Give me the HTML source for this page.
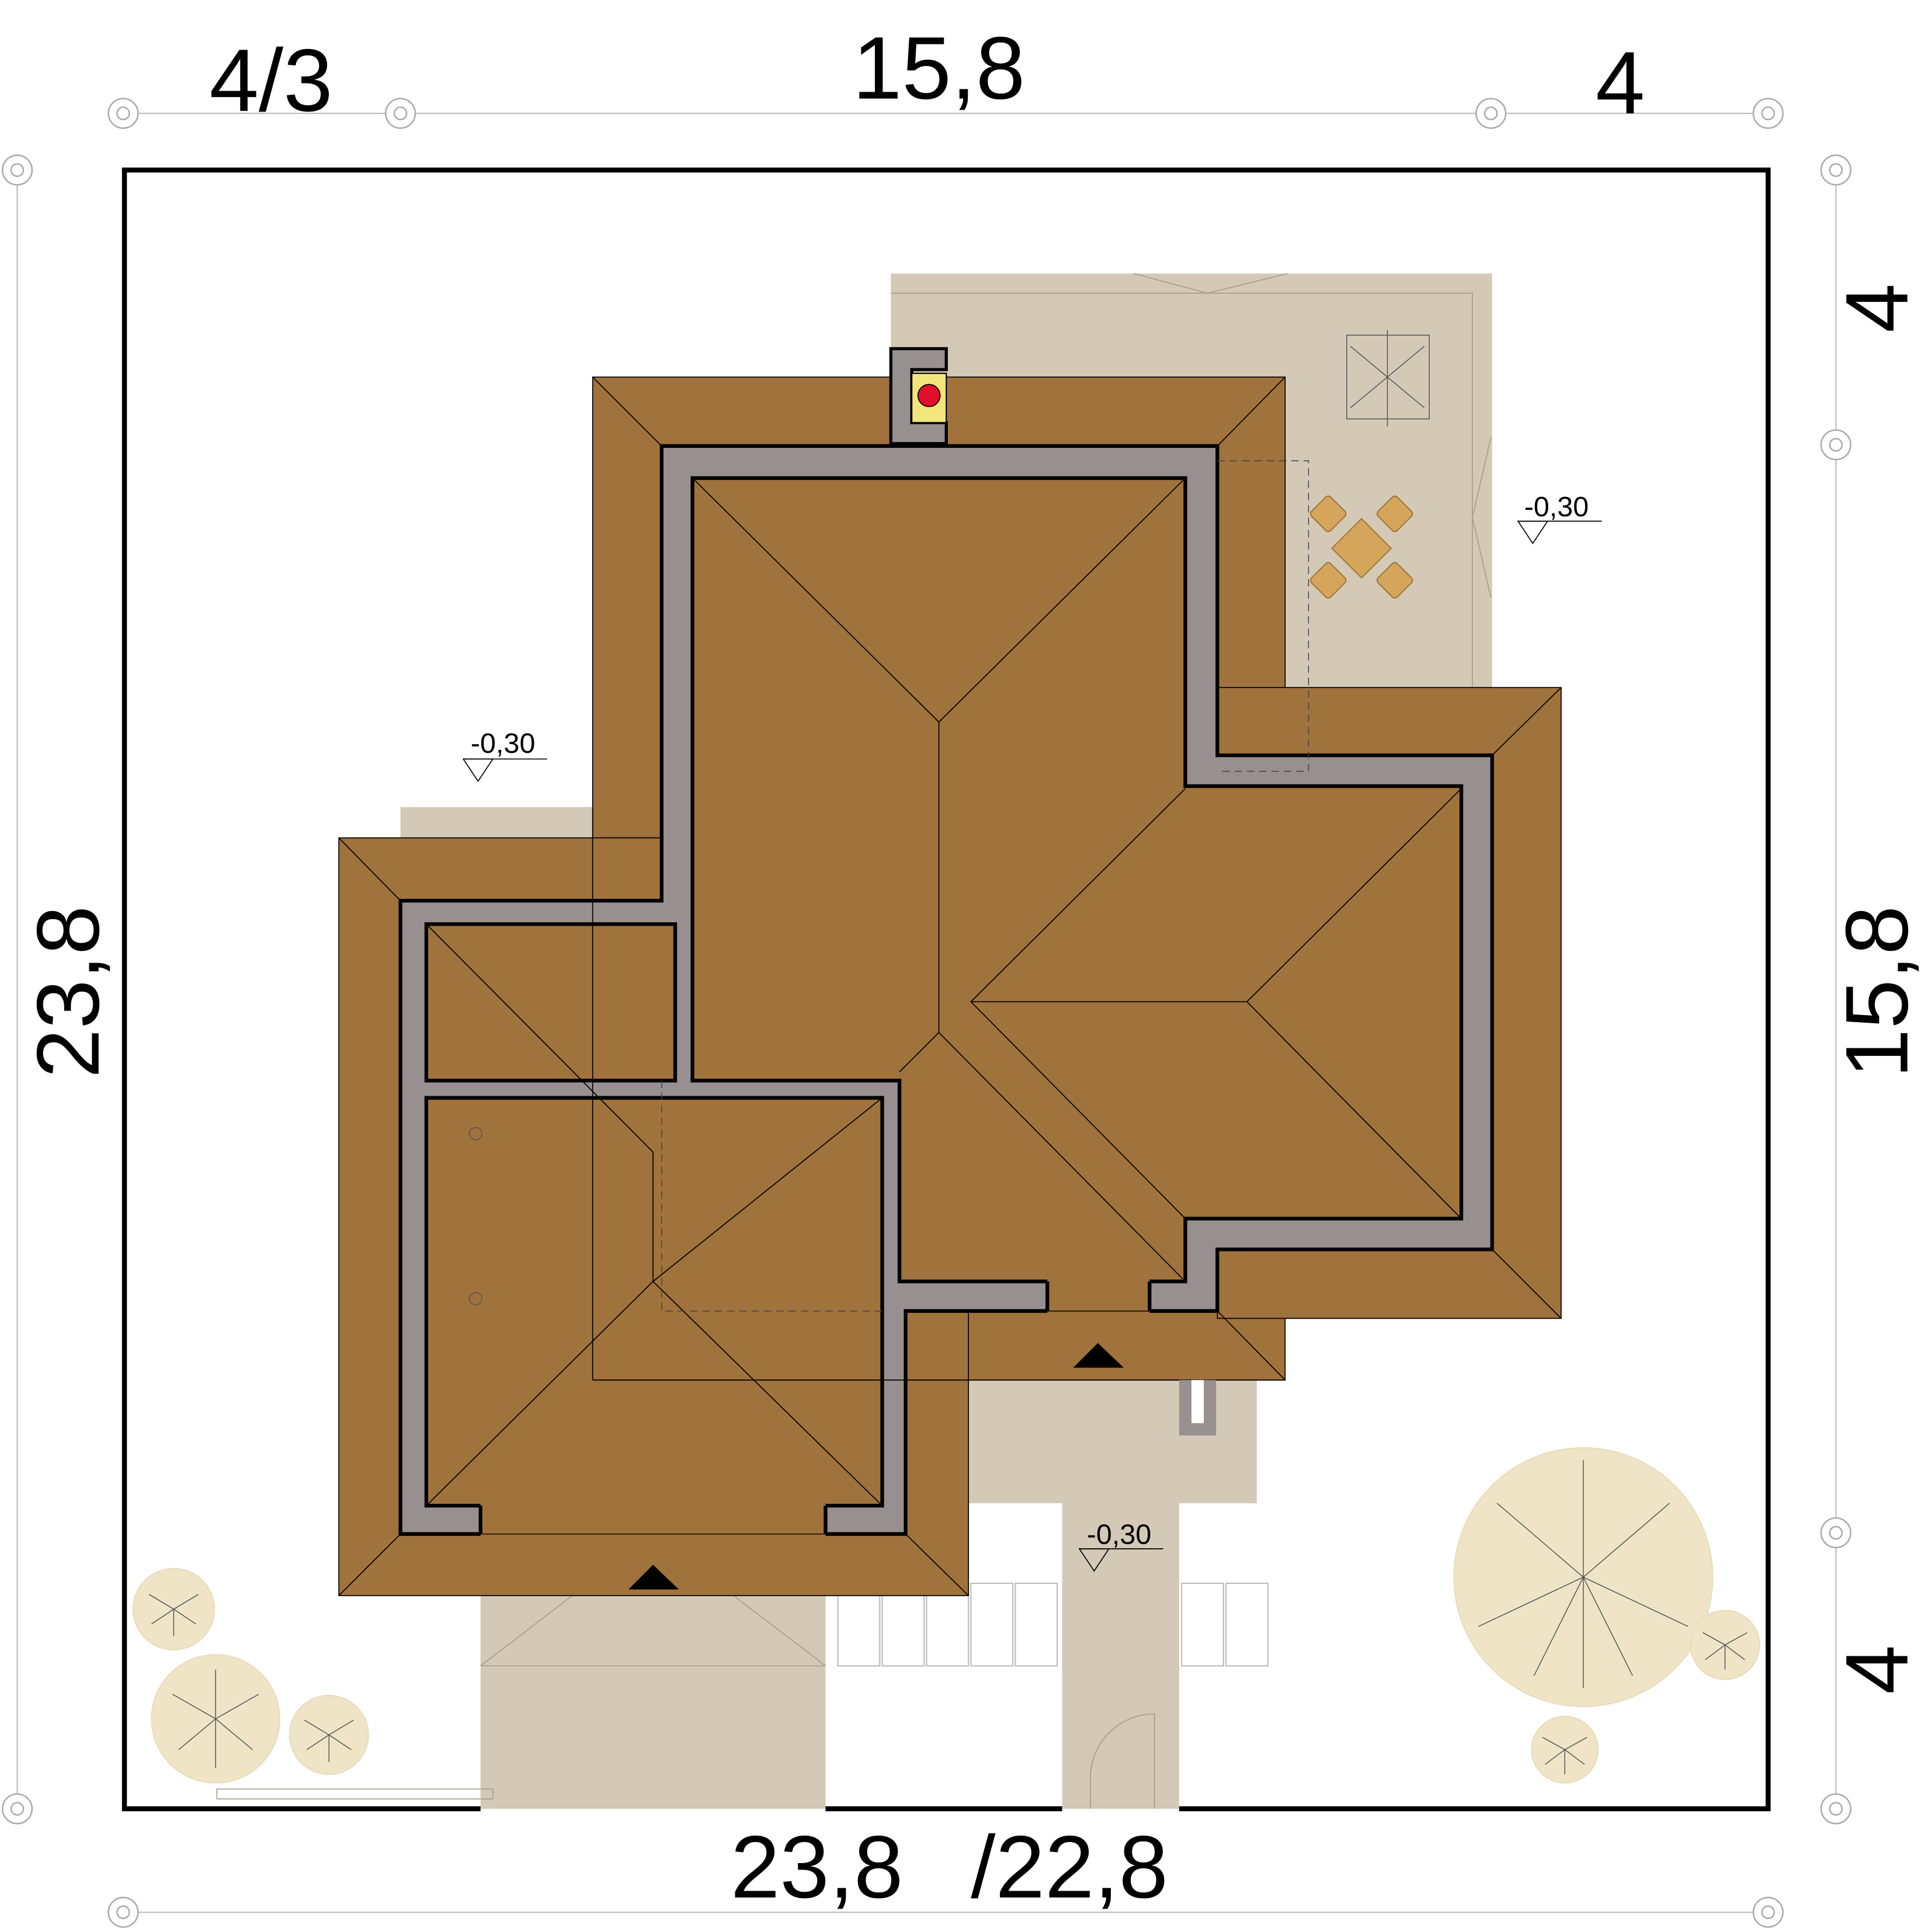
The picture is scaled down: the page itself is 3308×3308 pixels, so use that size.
<!DOCTYPE html>
<html><head><meta charset="utf-8"><style>
html,body{margin:0;padding:0;background:#fff}
svg{display:block}
text{font-family:"Liberation Sans",sans-serif}
</style></head><body>
<svg width="3308" height="3308" viewBox="0 0 1568 1568" xmlns="http://www.w3.org/2000/svg">
<rect width="1568" height="1568" fill="#fff"/>
<g stroke="#bbb" stroke-width="1" fill="none">
<line x1="100" y1="92" x2="1435" y2="92"/>
<line x1="100" y1="1552" x2="1435" y2="1552"/>
<line x1="14" y1="138" x2="14" y2="1468"/>
<line x1="1490" y1="138" x2="1490" y2="1468"/>
</g>
<g fill="#fff" stroke="#aaa" stroke-width="1.2">
<circle cx="100" cy="92" r="12"/><circle cx="100" cy="92" r="5"/>
<circle cx="325" cy="92" r="12"/><circle cx="325" cy="92" r="5"/>
<circle cx="1210" cy="92" r="12"/><circle cx="1210" cy="92" r="5"/>
<circle cx="1435" cy="92" r="12"/><circle cx="1435" cy="92" r="5"/>
<circle cx="100" cy="1552" r="12"/><circle cx="100" cy="1552" r="5"/>
<circle cx="1435" cy="1552" r="12"/><circle cx="1435" cy="1552" r="5"/>
<circle cx="14" cy="138" r="12"/><circle cx="14" cy="138" r="5"/>
<circle cx="14" cy="1468" r="12"/><circle cx="14" cy="1468" r="5"/>
<circle cx="1490" cy="138" r="12"/><circle cx="1490" cy="138" r="5"/>
<circle cx="1490" cy="361" r="12"/><circle cx="1490" cy="361" r="5"/>
<circle cx="1490" cy="1244" r="12"/><circle cx="1490" cy="1244" r="5"/>
<circle cx="1490" cy="1468" r="12"/><circle cx="1490" cy="1468" r="5"/>
</g>
<g font-size="72" fill="#000" text-anchor="middle">
<text x="220" y="90">4/3</text>
<text x="762" y="80">15,8</text>
<text x="1315" y="92">4</text>
<text x="663" y="1540">23,8</text>
<text x="868" y="1540">/22,8</text>
<text transform="translate(80,805) rotate(-90)">23,8</text>
<text transform="translate(1548,250) rotate(-90)">4</text>
<text transform="translate(1548,805) rotate(-90)">15,8</text>
<text transform="translate(1548,1355) rotate(-90)">4</text>
</g>
<g fill="#d3c9b6">
<rect x="723" y="222" width="488" height="390"/>
<rect x="325" y="655" width="210" height="30"/>
<rect x="786" y="1060" width="234" height="160"/>
<rect x="862" y="1150" width="95" height="318"/>
<rect x="390" y="1290" width="280" height="178"/>
</g>
<g stroke="#a89e8c" stroke-width="0.8" fill="none">
<polyline points="920,222 980,238 1045,222"/>
<polyline points="723,238 1195,238 1195,612"/>
<polyline points="1210,355 1195,420 1210,485"/>
<line x1="390" y1="1352" x2="670" y2="1352"/>
<polyline points="390,1352 530,1245 670,1352"/>
<path d="M885,1468 v-25 a52,52 0 0 1 52,-52 v77"/>
<rect x="176" y="1452" width="224" height="8"/>
</g>
<g fill="#fff" stroke="#bbb" stroke-width="1">
<rect x="680" y="1285" width="34" height="67"/><rect x="716" y="1285" width="34" height="67"/>
<rect x="752" y="1285" width="34" height="67"/><rect x="788" y="1285" width="34" height="67"/>
<rect x="824" y="1285" width="34" height="67"/><rect x="959" y="1285" width="34" height="67"/>
<rect x="995" y="1285" width="34" height="67"/>
</g>
<path d="M390,1468 H101 V138 H1435 V1468 H957 M862,1468 H670" fill="none" stroke="#000" stroke-width="4"/>
<g fill="#a0723c" stroke="#000" stroke-width="0.8">
<rect x="481" y="306" width="562" height="814"/>
<rect x="988" y="558" width="279" height="512"/>
<rect x="275" y="680" width="511" height="615"/>
</g>
<polygon points="537,362 988,362 988,613 1211,613 1211,1014 988,1014 988,1064 735,1064 735,1245 325,1245 325,731 537,731" fill="#989090" stroke="#000" stroke-width="3"/>
<g fill="#a0723c" stroke="#000" stroke-width="3">
<polygon points="562,388 962,388 962,638 1186,638 1186,989 962,989 962,1040 730,1040 730,877 562,877"/>
<rect x="346" y="750" width="202" height="127"/>
<rect x="346" y="891" width="370" height="331"/>
</g>
<rect x="390" y="1220" width="280" height="27" fill="#a0723c"/>
<rect x="850" y="1038" width="83" height="28" fill="#a0723c"/>
<g stroke="#000" stroke-width="3" fill="none">
<line x1="390" y1="1222" x2="390" y2="1245"/><line x1="670" y1="1222" x2="670" y2="1245"/>
<line x1="850" y1="1040" x2="850" y2="1064"/><line x1="933" y1="1040" x2="933" y2="1064"/>
</g>
<g stroke="#000" stroke-width="0.7"><line x1="390" y1="1245" x2="670" y2="1245"/><line x1="850" y1="1064" x2="933" y2="1064"/></g>
<g stroke="#000" stroke-width="0.8" fill="none">
<polyline points="562,388 762,586 962,388"/>
<line x1="762" y1="586" x2="762" y2="838"/>
<line x1="762" y1="838" x2="960" y2="1038"/>
<line x1="762" y1="838" x2="730" y2="870"/>
<line x1="788" y1="813" x2="1012" y2="813"/>
<polyline points="962,640 788,813 962,989"/>
<polyline points="1186,640 1012,813 1186,989"/>
<polyline points="346,750 530,935 530,1040 716,891"/>
<polyline points="346,1222 530,1040 716,1222"/>
<line x1="481" y1="306" x2="537" y2="362"/><line x1="1043" y1="306" x2="988" y2="362"/>
<line x1="275" y1="680" x2="325" y2="731"/><line x1="275" y1="1295" x2="325" y2="1245"/>
<line x1="786" y1="1295" x2="735" y2="1245"/>
<line x1="1267" y1="558" x2="1211" y2="613"/><line x1="1267" y1="1070" x2="1211" y2="1014"/>
<line x1="1043" y1="1120" x2="988" y2="1064"/>
<line x1="481" y1="655" x2="481" y2="1120"/>
<line x1="481" y1="1120" x2="1043" y2="1120"/>
</g>
<g stroke="#444" stroke-width="0.7" stroke-dasharray="6,4" fill="none">
<polyline points="988,374 1062,374 1062,626 988,626"/>
<polyline points="537,877 537,1064 716,1064"/>
</g>
<g stroke="#555" stroke-width="0.7" fill="none"><circle cx="386" cy="920" r="5"/><circle cx="386" cy="1054" r="5"/></g>
<path d="M723,283 H768 V300 H740 V343 H768 V360 H723 Z" fill="#989090" stroke="#000" stroke-width="2.5"/>
<rect x="740" y="303" width="28" height="40" fill="#f2e67a" stroke="#000" stroke-width="1"/>
<circle cx="754" cy="321" r="9" fill="#e0102a" stroke="#000" stroke-width="0.8"/>
<rect x="957" y="1120" width="30" height="45" fill="#989090"/>
<rect x="967" y="1120" width="10" height="35" fill="#fff"/>
<polygon points="871,1110 891,1090 912,1110" fill="#000"/>
<polygon points="510,1290 530,1270 551,1290" fill="#000"/>
<g fill="#d6a55c" stroke="#a07a3a" stroke-width="1">
<rect x="1088" y="428" width="34" height="34" transform="rotate(45 1105 445)"/>
<rect x="1067" y="406" width="22" height="22" rx="3" transform="rotate(45 1078 417)"/>
<rect x="1121" y="406" width="22" height="22" rx="3" transform="rotate(45 1132 417)"/>
<rect x="1067" y="460" width="22" height="22" rx="3" transform="rotate(45 1078 471)"/>
<rect x="1121" y="460" width="22" height="22" rx="3" transform="rotate(45 1132 471)"/>
</g>
<g fill="#efe4c6" stroke="#e8dcbc">
<circle cx="1285" cy="1280" r="105"/>
<circle cx="141" cy="1306" r="33"/><circle cx="175" cy="1395" r="52"/>
<circle cx="267" cy="1408" r="32"/><circle cx="1400" cy="1335" r="28"/>
<circle cx="1270" cy="1420" r="27"/>
</g>
<g stroke="#555" stroke-width="0.7" fill="none">
<path d="M1285,1280 l-70,-60 M1285,1280 l70,-60 M1285,1280 l-85,40 M1285,1280 l85,40 M1285,1280 l0,90 M1285,1280 l0,-95 M1285,1280 l-40,80 M1285,1280 l40,80"/>
<path d="M175,1395 l-35,-20 M175,1395 l35,-20 M175,1395 l0,40 M175,1395 l0,-40 M175,1395 l-30,25 M175,1395 l30,25"/>
<path d="M141,1306 l-20,-12 M141,1306 l20,-12 M141,1306 l0,22 M141,1306 l-18,12 M141,1306 l18,12"/>
<path d="M267,1408 l-20,-12 M267,1408 l20,-12 M267,1408 l0,22 M267,1408 l-18,12 M267,1408 l18,12"/>
<path d="M1400,1335 l-18,-10 M1400,1335 l18,-10 M1400,1335 l0,20 M1400,1335 l-16,12 M1400,1335 l16,12"/>
<path d="M1270,1420 l-18,-10 M1270,1420 l18,-10 M1270,1420 l0,20 M1270,1420 l-16,12 M1270,1420 l16,12"/>
<rect x="1093" y="272" width="67" height="68"/>
<path d="M1126,306 l-30,-25 M1126,306 l30,-25 M1126,306 l-30,25 M1126,306 l30,25 M1126,306 v-38 M1126,306 v40"/>
</g>
<g font-size="23" fill="#000">
<text x="382" y="611">-0,30</text>
<text x="1237" y="419">-0,30</text>
<text x="882" y="1253">-0,30</text>
</g>
<g stroke="#000" stroke-width="0.8" fill="none">
<polyline points="376,616 444,616"/><polygon points="376,616 400,616 388,634"/>
<polyline points="1232,423 1300,423"/><polygon points="1232,423 1256,423 1244,441"/>
<polyline points="876,1257 944,1257"/><polygon points="876,1257 900,1257 888,1275"/>
</g>
</svg>
</body></html>
